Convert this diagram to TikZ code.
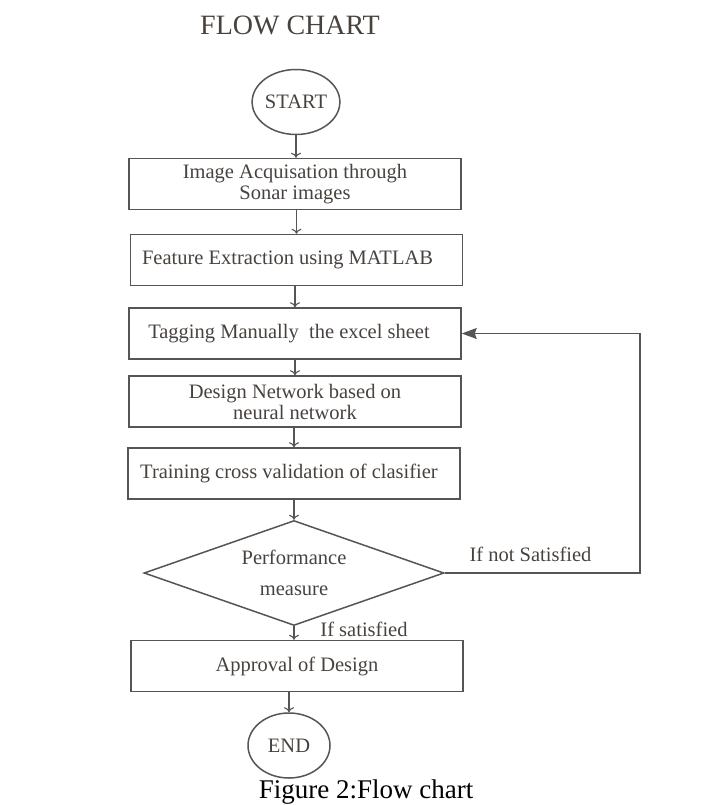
\documentclass[tikz,border=0pt]{standalone}
\usepackage{fontspec}
\setmainfont{Liberation Serif}
\usetikzlibrary{shapes.geometric,arrows.meta}

\definecolor{linegray}{RGB}{85,85,85}
\definecolor{textgray}{RGB}{72,66,62}

\tikzset{
    procbox/.style={draw=linegray,line width=1.5pt,minimum width=332pt,minimum height=51pt,
        inner sep=0pt,align=center,text=textgray,font=\fontsize{20.5}{21}\selectfont},
    termnode/.style={ellipse,draw=linegray,line width=1.5pt,minimum width=82pt,minimum height=65pt,
        inner sep=0pt,text=textgray,font=\fontsize{20.5}{21}\selectfont},
    decnode/.style={diamond,draw=linegray,line width=1.5pt,minimum width=300pt,minimum height=105pt,
        aspect=2.86,inner sep=0pt,align=center,text=textgray,font=\fontsize{20.5}{31}\selectfont},
    flow/.style={draw=linegray,line width=1.1pt,-{To[length=5pt,width=10pt]}},
    tag/.style={text=textgray,font=\fontsize{20.5}{21}\selectfont}
}

\begin{document}
\begin{tikzpicture}[x=1pt,y=-1pt]
    \useasboundingbox (0,0) rectangle (717,805);

    % Title
    \node[text=textgray,font=\fontsize{28}{30}\selectfont] (title) at (290,25) {FLOW CHART};

    % Steps
    \node[termnode] (start) at (296,102) {START};
    \node[procbox] (acq) at (295,184) {Image Acquisation through\\Sonar images};
    \node[procbox] (feat) at (296.5,260) {\hspace{-18pt}Feature Extraction using MATLAB};
    \node[procbox] (tagg) at (295,333.5) {\hspace{-12pt}Tagging Manually\ \ the excel sheet};
    \node[procbox] (design) at (295,401.5) {Design Network based on\\neural network};
    \node[procbox] (train) at (294,473.5) {\hspace{-10pt}Training cross validation of clasifier};
    \node[decnode] (perf) at (294,573) {Performance\\measure};
    \node[procbox] (appr) at (297,666) {Approval of Design};
    \node[termnode] (stop) at (289,745.5) {END};

    % Arrows down the chart
    \draw[flow] (start) -- (acq.north -| start);
    \draw[flow] (acq.south -| feat) -- (feat);
    \draw[flow] (feat.south -| acq) -- (tagg);
    \draw[flow] (tagg) -- (design);
    \draw[flow] (design.south -| train) -- (train);
    \draw[flow] (train.south -| perf) -- (perf);
    \draw[flow] (perf.south) -- (appr.north -| perf);
    \draw[flow] (appr.south -| stop) -- (stop);

    % Loop back when not satisfied
    \coordinate (loop) at (640,573);
    \draw[draw=linegray,line width=1.1pt,-{Stealth[length=15pt,width=11pt,inset=2pt]}]
        (perf.east) -- (loop) |- (tagg.east);

    % Branch labels
    \node[tag] (nosat) at (530.5,554) {If not Satisfied};
    \node[tag] (yessat) at (364,629) {If satisfied};

    % Caption
    \node[font=\fontsize{27}{28}\selectfont] (cap) at (366,792) {Figure 2:Flow chart};
\end{tikzpicture}
\end{document}
